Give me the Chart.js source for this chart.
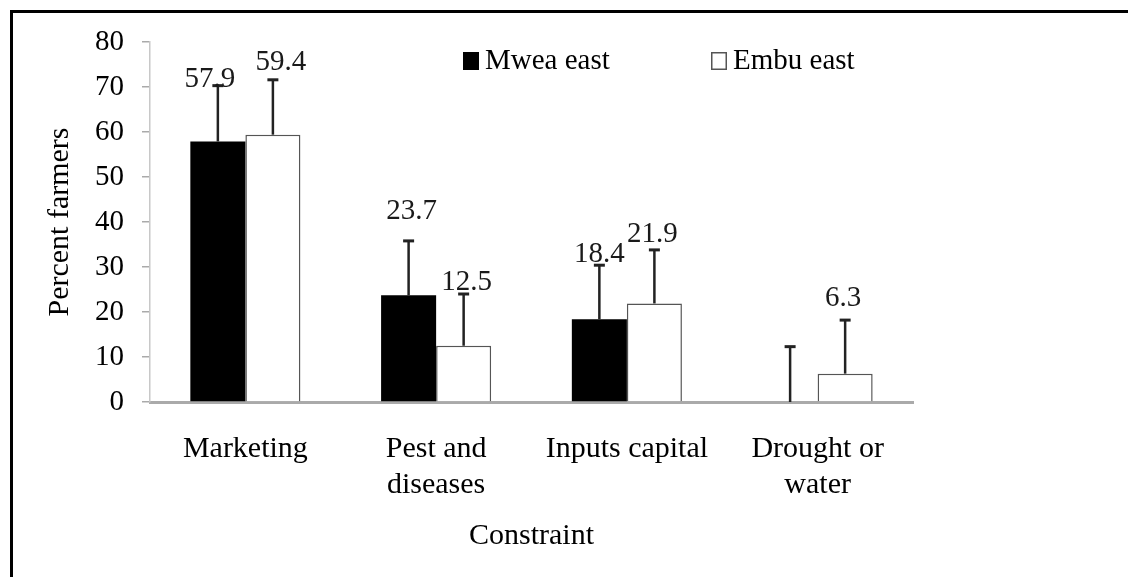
<!DOCTYPE html>
<html>
<head>
<meta charset="utf-8">
<title>Constraints chart</title>
<script src="https://cdn.jsdelivr.net/npm/chart.js@4.4.1/dist/chart.umd.min.js"></script>
<style>
    html, body { margin: 0; padding: 0; background: #fff; overflow: hidden; }
    #wrap { position: relative; width: 1128px; height: 577px; }
    #frame {
        position: absolute; left: 10px; top: 10px; width: 1200px; height: 700px;
        border-left: 3px solid #000; border-top: 3px solid #000;
    }
    #chart { position: absolute; left: 0; top: 0; }
</style>
</head>
<body>
<div id="wrap">
    <div id="frame"></div>
    <canvas id="chart" width="1128" height="577"></canvas>
</div>
<script>
// values
const constraints = [['Marketing'], ['Pest and', 'diseases'], ['Inputs capital'], ['Drought or', 'water']];
const mweaEast = [57.9, 23.7, 18.4, 0];
const embuEast = [59.4, 12.5, 21.9, 6.3];
const mweaErr = [12.4, 12.1, 12.0, 12.3];
const embuErr = [12.2, 11.5, 11.9, 11.9];
const yTicks = [0, 10, 20, 30, 40, 50, 60, 70, 80];

const serif = "'Liberation Serif', 'Times New Roman', serif";

// error bars (upper only) + value labels
const errorBars = {
    id: 'errorBars',
    afterDatasetsDraw(chart, args, opts) {
        const ctx = chart.ctx;
        const y = chart.scales.y;
        chart.data.datasets.forEach((ds, di) => {
            const meta = chart.getDatasetMeta(di);
            meta.data.forEach((bar, i) => {
                const top = y.getPixelForValue(ds.data[i] + ds.errors[i]);
                ctx.save();
                ctx.strokeStyle = '#222';
                ctx.lineWidth = 2.5;
                ctx.beginPath();
                ctx.moveTo(bar.x, bar.y);
                ctx.lineTo(bar.x, top);
                ctx.stroke();
                ctx.lineWidth = 3;
                ctx.beginPath();
                ctx.moveTo(bar.x - 5.5, top);
                ctx.lineTo(bar.x + 5.5, top);
                ctx.stroke();
                // label, nudged like the original
                if (ds.data[i] !== 0) {
                    const n = opts.nudge[di][i];
                    ctx.fillStyle = '#1a1a1a';
                    ctx.font = '29px ' + serif;
                    ctx.textAlign = 'center';
                    ctx.textBaseline = 'middle';
                    ctx.fillText(ds.data[i].toFixed(1), bar.x + n[0], top + n[1]);
                }
                ctx.restore();
            });
        });
    }
};

const legendBoxes = {
    id: 'legendBoxes',
    afterDraw(chart, args, opts) {
        const ctx = chart.ctx;
        const area = chart.chartArea;
        chart.data.datasets.forEach((ds, di) => {
            const x = area.left + opts.xs[di];
            const y = area.top + 10;
            ctx.save();
            ctx.fillStyle = ds.backgroundColor;
            ctx.fillRect(x, y, 16, 18);
            if (ds.borderWidth) {
                ctx.strokeStyle = ds.borderColor;
                ctx.lineWidth = 1.5;
                ctx.strokeRect(x + 0.75, y + 0.75, 14.5, 16.5);
            }
            ctx.fillStyle = '#000';
            ctx.font = '29px ' + serif;
            ctx.textBaseline = 'middle';
            ctx.fillText(ds.label, x + 22, y + 9);
            ctx.restore();
        });
    }
};

new Chart(document.getElementById('chart'), {
    type: 'bar',
    data: {
        labels: constraints,
        datasets: [{
            label: 'Mwea east',
            data: mweaEast,
            errors: mweaErr,
            backgroundColor: '#000',
            borderWidth: 0,
        }, {
            label: 'Embu east',
            data: embuEast,
            errors: embuErr,
            backgroundColor: '#fff',
            borderColor: '#555',
            borderWidth: 1.5,
        }],
    },
    options: {
        responsive: false,
        animation: false,
        events: [],
        layout: { padding: { left: 0, top: 42, right: 215, bottom: 0 } },
        datasets: { bar: { categoryPercentage: 0.577, barPercentage: 1.0 } },
        scales: {
            x: {
                grid: { display: false, drawTicks: false },
                border: { display: true, color: '#aaa', width: 3 },
                ticks: { color: '#000', padding: 29, font: { family: serif, size: 30, lineHeight: 1.2 } },
                title: {
                    display: true, text: 'Constraint', color: '#000',
                    font: { family: serif, size: 30, lineHeight: 1.2 },
                    padding: { top: 0, bottom: 23 },
                },
                afterFit(s) { s.height = 175; },
            },
            y: {
                min: 0,
                max: 80,
                afterBuildTicks(s) { s.ticks = yTicks.map(v => ({ value: v })); },
                grid: { drawOnChartArea: false, drawTicks: true, tickLength: 8, color: '#aaa', lineWidth: 1.5 },
                border: { display: true, color: '#c8c8c8', width: 1.5 },
                ticks: { color: '#000', padding: 18, font: { family: serif, size: 29 } },
                title: {
                    display: true, text: 'Percent farmers', color: '#000',
                    font: { family: serif, size: 30, lineHeight: 1.2 },
                    padding: { top: 42, bottom: 0 },
                },
                afterFit(s) { s.width = 150; },
            },
        },
        plugins: {
            legend: { display: false },
            tooltip: { enabled: false },
            errorBars: {
                nudge: [
                    [[-8, -6], [3, -30], [0, -11], [0, 0]],
                    [[8, -17], [3, -12], [-2, -16], [-2, -22]],
                ],
            },
            legendBoxes: { xs: [313, 561] },
        },
    },
    plugins: [errorBars, legendBoxes],
});
</script>
</body>
</html>
